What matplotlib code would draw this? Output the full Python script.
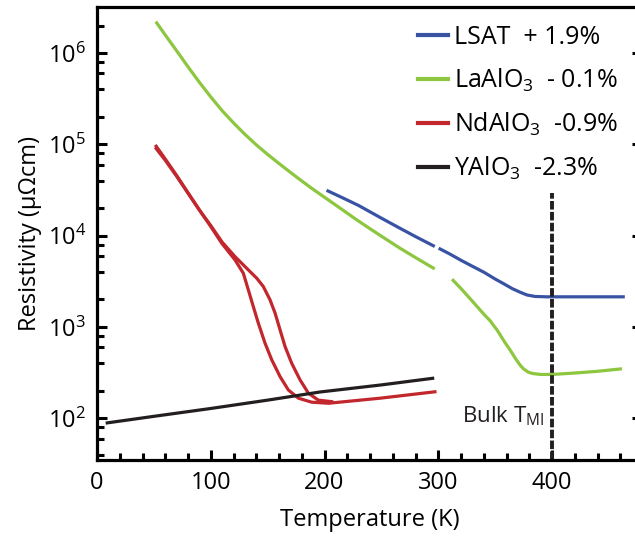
import numpy as np
import matplotlib
matplotlib.use("Agg")
import matplotlib.pyplot as plt
from matplotlib.ticker import LogLocator, MultipleLocator, NullFormatter

plt.rcParams['font.family'] = ['Open Sans', 'DejaVu Sans']
plt.rcParams['mathtext.fontset'] = 'custom'
plt.rcParams['mathtext.rm'] = 'Open Sans'

# LSAT (+1.9%), two pieces with a small gap near 300 K
lsat_T1 = [203, 215, 230, 249, 265, 280, 295.6]
lsat_r1 = [3.09e4, 2.63e4, 2.14e4, 1.58e4, 1.23e4, 9.77e3, 7.76e3]
lsat_T2 = [301.5, 310, 320, 330, 340, 350, 358, 365, 372, 378, 385, 395, 430, 462.5]
lsat_r2 = [7.16e3, 6.31e3, 5.37e3, 4.62e3, 3.98e3, 3.35e3, 2.95e3, 2.63e3, 2.40e3, 2.24e3,
           2.16e3, 2.14e3, 2.14e3, 2.14e3]

# LaAlO3 (-0.1%)
lao_T1 = [52.5, 60, 70, 80, 90, 100, 110, 120, 130, 140, 150, 160, 174, 188, 203, 215, 227,
          240, 253, 266, 280, 295.6]
lao_r1 = [2.14e6, 1.58e6, 1.06e6, 7.08e5, 4.79e5, 3.31e5, 2.34e5, 1.72e5, 1.29e5, 9.89e4,
          7.76e4, 6.17e4, 4.52e4, 3.35e4, 2.48e4, 1.95e4, 1.53e4, 1.19e4, 9.33e3, 7.33e3,
          5.75e3, 4.42e3]
lao_T2 = [313, 320, 330, 340, 345.5, 352, 358, 363, 368, 372, 375, 379, 383, 390, 400, 420,
          440, 460]
lao_r2 = [3.24e3, 2.63e3, 1.91e3, 1.38e3, 1.17e3, 912, 692, 562, 447, 380, 347, 320, 309, 302,
          302, 313, 327, 347]

# NdAlO3 (-0.9%), two branches (hysteresis loop)
nao_Ta = [52, 60, 70, 80, 90, 100, 109.6, 121.3, 128.6, 133, 137.4, 141.8, 147.7, 153.6, 160.9,
          168.2, 177, 188.7, 203.4, 249, 297]
nao_ra = [9.55e4, 6.92e4, 4.57e4, 2.95e4, 1.91e4, 1.26e4, 8.28e3, 5.43e3, 3.88e3, 2.55e3,
          1.67e3, 1.10e3, 664, 436, 286, 204, 166, 150, 146, 166, 195]
nao_Tb = [52, 60, 70, 80, 90, 100, 110, 121.3, 133, 140.4, 146.2, 152.1, 156.5, 160.9, 165.3,
          171.1, 178.5, 185.8, 194.5, 206.3]
nao_rb = [9.0e4, 6.7e4, 4.47e4, 2.92e4, 1.91e4, 1.29e4, 8.5e3, 5.9e3, 4.22e3, 3.42e3, 2.77e3,
          1.98e3, 1.42e3, 929, 610, 401, 263, 188, 158, 152]

# YAlO3 (-2.3%)
yao_T = [9, 50, 100, 150, 196, 250, 295]
yao_r = [89, 105, 128, 158, 194, 232, 274]

fig = plt.figure(figsize=(6.35, 5.38), dpi=100)
ax = fig.add_axes([97 / 635, 78 / 538, 545 / 635, 453 / 538])

blue, green, red, black = '#3953a4', '#8dc63f', '#c1272d', '#231f20'
lw = 2.3

ax.plot(lsat_T1, lsat_r1, color=blue, lw=lw, label='LSAT  + 1.9%')
ax.plot(lsat_T2, lsat_r2, color=blue, lw=lw)
ax.plot(lao_T1, lao_r1, color=green, lw=lw, label='LaAlO$_\\mathregular{3}$  - 0.1%')
ax.plot(lao_T2, lao_r2, color=green, lw=lw)
ax.plot(nao_Ta, nao_ra, color=red, lw=lw, label='NdAlO$_\\mathregular{3}$  -0.9%')
ax.plot(nao_Tb, nao_rb, color=red, lw=lw)
ax.plot(yao_T, yao_r, color=black, lw=lw, label='YAlO$_\\mathregular{3}$  -2.3%')

# bulk T_MI marker
ax.axvline(400, ymin=0, ymax=0.59, color=black, lw=2.8, ls=(0, (2.2, 0.6)))
ax.text(393, 91, 'Bulk T$_\\mathregular{MI}$', fontsize=16, ha='right', va='baseline', color=black)

ax.set_yscale('log')
ax.set_xlim(0, 479)
ax.set_ylim(34.9, 3.2e6)

ax.xaxis.set_major_locator(MultipleLocator(100))
ax.xaxis.set_minor_locator(MultipleLocator(20))
ax.yaxis.set_major_locator(LogLocator(base=10, numticks=10))
ax.yaxis.set_minor_locator(LogLocator(base=10, subs=[2, 4, 6, 8], numticks=10))
ax.yaxis.set_minor_formatter(NullFormatter())

for s in ax.spines.values():
    s.set_linewidth(2.3)
ax.tick_params(which='both', direction='in', width=2.2, left=True, right=True, top=False, bottom=True)
ax.tick_params(which='major', length=7.5, labelsize=17, pad=8)
ax.tick_params(which='minor', length=5)

ax.set_xlabel('Temperature (K)', fontsize=17, labelpad=9.5)
ax.set_ylabel('Resistivity (μΩcm)', fontsize=17, labelpad=4)

leg = ax.legend(loc='upper left', bbox_to_anchor=(405 / 635, 1 - 12 / 538), bbox_transform=fig.transFigure,
                frameon=False, fontsize=18, handlelength=1.2, handletextpad=0.25, labelspacing=0.68,
                borderpad=0)
for h in leg.get_lines():
    h.set_linewidth(3)

fig.savefig('out.png', dpi=100)
